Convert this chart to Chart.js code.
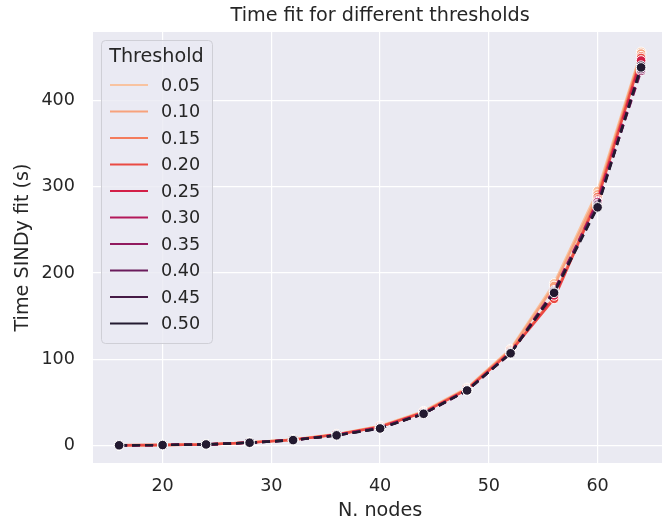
<!DOCTYPE html>
<html>
<head>
<meta charset="utf-8">
<script src="https://cdn.jsdelivr.net/npm/chart.js@4/dist/chart.umd.min.js"></script>
<style>
    html, body { margin: 0; padding: 0; background: #fff; overflow: hidden; }
    #wrap { width: 673px; height: 527px; }
</style>
</head>
<body>
<div id="wrap"><canvas id="fitChart" width="673" height="527"></canvas></div>
<script>
// N. nodes on the x axis
const nodes = [16, 20, 24, 28, 32, 36, 40, 44, 48, 52, 56, 60, 64];
const thresholds = ['0.05', '0.10', '0.15', '0.20', '0.25', '0.30', '0.35', '0.40', '0.45', '0.50'];
const palette = ['#f8c3a0', '#f7a27c', '#f47c5c', '#ea4a43', '#d31f47', '#b3185a', '#911a5e', '#6b1c5c', '#451a45', '#231a30'];

// fit time in seconds, one array per threshold
const t005 = [0.6, 0.9, 1.6, 3.8, 7.2, 13.5, 23.0, 40.0, 67.0, 112.0, 188.0, 295.0, 456.0];
const t010 = [0.6, 0.9, 1.6, 3.7, 7.0, 13.2, 22.5, 39.0, 66.0, 111.0, 185.0, 291.0, 454.0];
const t015 = [0.5, 0.9, 1.5, 3.7, 6.9, 13.0, 22.0, 39.0, 66.0, 110.0, 172.0, 288.0, 451.0];
const t020 = [0.5, 0.8, 1.5, 3.6, 6.8, 12.8, 21.8, 38.5, 65.0, 109.0, 170.0, 285.0, 449.0];
const t025 = [0.5, 0.8, 1.5, 3.6, 6.7, 12.6, 21.5, 38.0, 65.0, 108.0, 174.0, 283.0, 446.0];
const t030 = [0.5, 0.8, 1.5, 3.6, 6.6, 12.4, 21.0, 37.5, 64.5, 108.0, 180.0, 282.0, 438.0];
const t035 = [0.5, 0.8, 1.5, 3.5, 6.6, 12.2, 20.5, 37.0, 64.0, 107.0, 178.0, 280.0, 434.0];
const t040 = [0.5, 0.8, 1.5, 3.5, 6.5, 12.1, 20.3, 37.0, 64.0, 107.0, 179.0, 279.0, 436.0];
const t045 = [0.5, 0.8, 1.5, 3.5, 6.5, 12.0, 20.1, 37.0, 64.0, 107.0, 178.0, 277.0, 440.0];
const t050 = [0.5, 0.8, 1.5, 3.5, 6.5, 12.0, 20.0, 37.0, 64.0, 107.0, 177.0, 276.0, 438.0];
const series = [t005, t010, t015, t020, t025, t030, t035, t040, t045, t050];

const xTicks = [20, 30, 40, 50, 60];
const yTicks = [0, 100, 200, 300, 400];

const textColor = '#262626';
const font = 'DejaVu Sans';

// title + in-axes legend, drawn like the seaborn figure
const decorations = {
    id: 'decorations',
    afterDraw(chart) {
        const { ctx, chartArea } = chart;
        ctx.save();
        ctx.fillStyle = textColor;
        ctx.font = `19.2px "${font}"`;
        ctx.textAlign = 'center';
        ctx.textBaseline = 'middle';
        ctx.fillText('Time fit for different thresholds', (chartArea.left + chartArea.right) / 2, 16);

        // legend box
        const bx = 101, by = 40, bw = 111, bh = 303;
        ctx.beginPath();
        ctx.roundRect(bx + 0.5, by + 0.5, bw, bh, 4);
        ctx.fillStyle = 'rgba(234,234,242,0.8)';
        ctx.fill();
        ctx.strokeStyle = '#cfcfd6';
        ctx.lineWidth = 1;
        ctx.stroke();

        ctx.fillStyle = textColor;
        ctx.font = `19.2px "${font}"`;
        ctx.fillText('Threshold', bx + bw / 2, 57);

        ctx.font = `17.6px "${font}"`;
        ctx.textAlign = 'left';
        thresholds.forEach((th, i) => {
            const y = 85 + i * 26.5;
            ctx.beginPath();
            ctx.moveTo(110, y);
            ctx.lineTo(148, y);
            ctx.strokeStyle = palette[i];
            ctx.lineWidth = 2.2;
            ctx.stroke();
            ctx.fillStyle = textColor;
            ctx.fillText(th, 161, y + 1);
        });
        ctx.restore();
    },
};

const datasets = series.map((vals, i) => ({
    label: thresholds[i],
    data: vals.map((v, j) => ({ x: nodes[j], y: v })),
    borderColor: palette[i],
    backgroundColor: palette[i],
    borderWidth: 2.4,
    borderDash: i >= 4 ? [8, 5] : [],
    pointRadius: 4.8,
    pointHoverRadius: 4.8,
    pointBackgroundColor: palette[i],
    pointBorderColor: '#ffffff',
    pointBorderWidth: 1,
    tension: 0,
    order: series.length - i,
}));

new Chart(document.getElementById('fitChart'), {
    type: 'line',
    data: { datasets },
    options: {
        responsive: false,
        animation: false,
        devicePixelRatio: 1,
        layout: { padding: { top: 32, right: 0, left: 0, bottom: 0 } },
        plugins: {
            legend: { display: false },
            tooltip: { enabled: false },
            title: { display: false },
        },
        scales: {
            x: {
                type: 'linear',
                min: 13.6,
                max: 66.4,
                afterBuildTicks: (s) => { s.ticks = xTicks.map((v) => ({ value: v })); },
                afterFit: (s) => { s.height = 64; },
                grid: { color: '#ffffff', lineWidth: 1.2, drawTicks: false },
                border: { display: false },
                ticks: { color: textColor, font: { family: font, size: 17.6 }, padding: 13 },
                title: { display: true, text: 'N. nodes', color: textColor, font: { family: font, size: 19.2 }, padding: { top: 1 } },
            },
            y: {
                type: 'linear',
                min: -20,
                max: 479,
                afterBuildTicks: (s) => { s.ticks = yTicks.map((v) => ({ value: v })); },
                afterFit: (s) => { s.width = 93; },
                grid: { color: '#ffffff', lineWidth: 1.2, drawTicks: false },
                border: { display: false },
                ticks: { color: textColor, font: { family: font, size: 17.6 }, padding: 18 },
                title: { display: true, text: 'Time SINDy fit (s)', color: textColor, font: { family: font, size: 19.2 }, padding: { top: 11 } },
            },
        },
    },
    plugins: [
        {
            id: 'plotBg',
            beforeDraw(chart) {
                const { ctx, chartArea: a } = chart;
                ctx.save();
                ctx.fillStyle = '#eaeaf2';
                ctx.fillRect(a.left, a.top, a.right - a.left, a.bottom - a.top);
                ctx.restore();
            },
        },
        decorations,
    ],
});
</script>
</body>
</html>
